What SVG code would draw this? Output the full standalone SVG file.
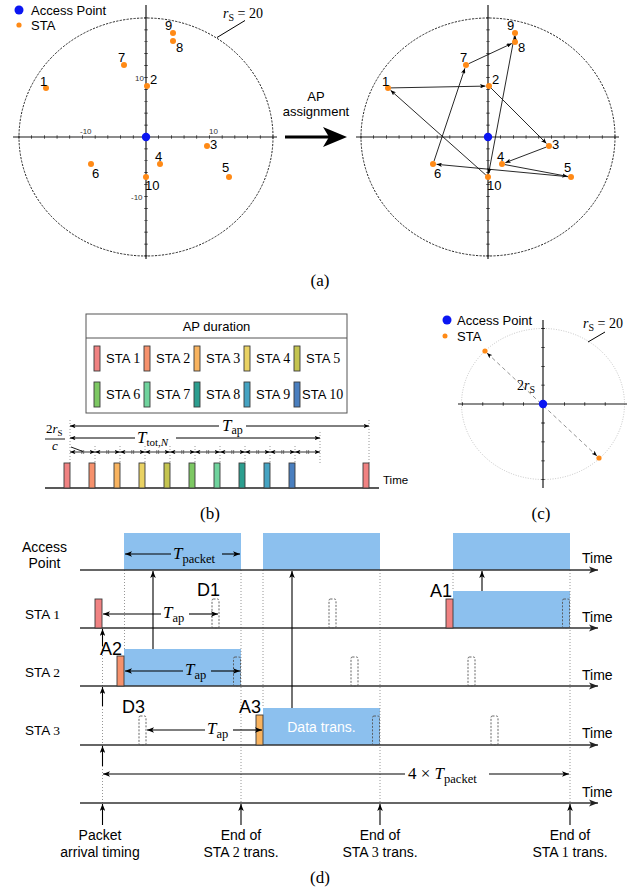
<svg xmlns="http://www.w3.org/2000/svg" width="642" height="887" viewBox="0 0 642 887">
<defs>
<style>
text{font-family:"Liberation Sans",Arial,sans-serif;fill:#000}
.sf{font-family:"Liberation Serif","Times New Roman",serif}
.it{font-style:italic}
.axis{stroke:#1a1a1a;stroke-width:1.2;fill:none}
.ring{fill:none;stroke:#111;stroke-width:0.9;stroke-dasharray:2.2 1.3}
.sta{fill:#ff8a16}
.ap{fill:#0b16f2}
.num{font-size:13px}
.tl{font-size:8px;fill:#333}
.lk{stroke:#111;stroke-width:0.9;fill:none;marker-end:url(#tip)}
.dim{stroke:#000;stroke-width:1;fill:none}
.dotv{stroke:#8a8a8a;stroke-width:0.9;stroke-dasharray:1 2;fill:none}
.slot{fill:none;stroke:#555;stroke-width:0.9;stroke-dasharray:2 1.5}
.pkt{fill:#8cc0ee}
.bar{stroke:#3a3a3a;stroke-width:0.9}
.tline{stroke:#333;stroke-width:1.4;fill:none;marker-end:url(#axtip)}
.up{stroke:#000;stroke-width:1.1;fill:none;marker-end:url(#dtip)}
.dd{stroke:#000;stroke-width:1.1;fill:none}
.c1{fill:#f08282}.c2{fill:#f6916c}.c3{fill:#f8b35f}.c4{fill:#e9d263}.c5{fill:#c4c44f}
.c6{fill:#7dc863}.c7{fill:#6fd39d}.c8{fill:#2c9e8f}.c9{fill:#45a3c2}.c10{fill:#4a7fbf}
.lg{font-size:13px}
</style>
<marker id="tip" viewBox="0 0 10 8" refX="10" refY="4" markerWidth="5.5" markerHeight="4.4" markerUnits="userSpaceOnUse" orient="auto-start-reverse"><path d="M0,0 L10,4 L0,8 L2.5,4 Z" fill="#000"/></marker>
<marker id="dtip" viewBox="0 0 10 8" refX="10" refY="4" markerWidth="7" markerHeight="5.6" markerUnits="userSpaceOnUse" orient="auto-start-reverse"><path d="M0,0 L10,4 L0,8 L2.5,4 Z" fill="#000"/></marker>
<marker id="axtip" viewBox="0 0 10 8" refX="10" refY="4" markerWidth="9" markerHeight="7.2" markerUnits="userSpaceOnUse" orient="auto"><path d="M0,0 L10,4 L0,8 L2.5,4 Z" fill="#222"/></marker>
</defs>
<rect width="642" height="887" fill="#fff"/>

<!-- ===== (a) left: station layout ===== -->
<g id="layout-left">
  <ellipse class="ring" cx="146" cy="137" rx="127" ry="119"/>
  <line class="axis" x1="13" y1="137" x2="277" y2="137"/>
  <line class="axis" x1="146" y1="5" x2="146" y2="259"/>
  <line x1="18.6" y1="137" x2="274" y2="137" stroke="#1a1a1a" stroke-width="3.5" stroke-dasharray="0.7 12"/>
  <line x1="146" y1="17.6" x2="146" y2="257" stroke="#1a1a1a" stroke-width="3.5" stroke-dasharray="0.7 11.2"/>
  <text class="tl" x="80" y="134">-10</text>
  <text class="tl" x="209" y="134">10</text>
  <text class="tl" x="135" y="81">10</text>
  <text class="tl" x="131" y="200">-10</text>
  <line x1="245" y1="20.5" x2="217" y2="37.5" stroke="#000" stroke-width="1"/>
  <text class="sf" x="223" y="18" font-size="14"><tspan class="it">r</tspan><tspan font-size="10" dy="3">S</tspan><tspan dy="-3"> = 20</tspan></text>
  <circle class="ap" cx="146" cy="137" r="4.2"/>
</g>
<g id="legend-a">
  <circle class="ap" cx="19" cy="10" r="4.5"/>
  <text class="lg" x="31" y="15">Access Point</text>
  <circle class="sta" cx="19" cy="25" r="2.6"/>
  <text class="lg" x="31" y="30">STA</text>
</g>
<g id="sta-left">
  <g id="sta1-l"><circle class="sta" cx="46" cy="88" r="3"/><text class="num" x="40" y="86">1</text></g>
  <g id="sta2-l"><circle class="sta" cx="147" cy="86" r="3"/><text class="num" x="150" y="84">2</text></g>
  <g id="sta3-l"><circle class="sta" cx="207" cy="146" r="3"/><text class="num" x="210" y="149">3</text></g>
  <g id="sta4-l"><circle class="sta" cx="160" cy="164" r="3"/><text class="num" x="155" y="161">4</text></g>
  <g id="sta5-l"><circle class="sta" cx="229" cy="177" r="3"/><text class="num" x="222" y="172">5</text></g>
  <g id="sta6-l"><circle class="sta" cx="91" cy="164" r="3"/><text class="num" x="92" y="178">6</text></g>
  <g id="sta7-l"><circle class="sta" cx="124" cy="65" r="3"/><text class="num" x="118" y="62">7</text></g>
  <g id="sta8-l"><circle class="sta" cx="173" cy="41" r="3"/><text class="num" x="176" y="52">8</text></g>
  <g id="sta9-l"><circle class="sta" cx="173" cy="33" r="3"/><text class="num" x="165" y="30">9</text></g>
  <g id="sta10-l"><circle class="sta" cx="146" cy="177" r="3"/><text class="num" x="145" y="190">10</text></g>
</g>

<!-- transition arrow -->
<g id="ap-assignment">
  <text class="lg" x="316" y="101" text-anchor="middle">AP</text>
  <text class="lg" x="316" y="116" text-anchor="middle">assignment</text>
  <line x1="285" y1="137" x2="330" y2="137" stroke="#000" stroke-width="3"/>
  <path d="M347,137 L323,127 L329,137 L323,147 Z" fill="#000"/>
</g>

<!-- ===== (a) right: assignment order ===== -->
<g id="layout-right">
  <ellipse class="ring" cx="488" cy="137" rx="127" ry="119"/>
  <line class="axis" x1="356" y1="137" x2="619" y2="137"/>
  <line class="axis" x1="488" y1="5" x2="488" y2="259"/>
  <line x1="360.6" y1="137" x2="616" y2="137" stroke="#1a1a1a" stroke-width="3.5" stroke-dasharray="0.7 12"/>
  <line x1="488" y1="17.6" x2="488" y2="257" stroke="#1a1a1a" stroke-width="3.5" stroke-dasharray="0.7 11.2"/>
  <circle class="ap" cx="488" cy="137" r="4.2"/>
</g>
<g id="order-links">
  <line class="lk" x1="391" y1="87.9" x2="485.5" y2="86.1"/>
  <line class="lk" x1="491.1" y1="88.1" x2="546.5" y2="143.5"/>
  <line class="lk" x1="546.2" y1="147.1" x2="505.3" y2="162.7"/>
  <line class="lk" x1="504.9" y1="164.6" x2="567.6" y2="176.4"/>
  <line class="lk" x1="568" y1="176.7" x2="436.5" y2="164.3"/>
  <line class="lk" x1="434" y1="161.2" x2="464.9" y2="68.3"/>
  <line class="lk" x1="468.7" y1="63.7" x2="511.8" y2="43.5"/>
  <line class="lk" x1="515" y1="41" x2="515" y2="35.5"/>
  <line class="lk" x1="514.4" y1="36" x2="488.6" y2="173.6"/>
  <line class="lk" x1="485.8" y1="175" x2="390.6" y2="90.3"/>
</g>
<g id="sta-right">
  <g id="sta1-r"><circle class="sta" cx="388" cy="88" r="3"/><text class="num" x="382" y="86">1</text></g>
  <g id="sta2-r"><circle class="sta" cx="489" cy="86" r="3"/><text class="num" x="492" y="84">2</text></g>
  <g id="sta3-r"><circle class="sta" cx="549" cy="146" r="3"/><text class="num" x="552" y="149">3</text></g>
  <g id="sta4-r"><circle class="sta" cx="502" cy="164" r="3"/><text class="num" x="497" y="161">4</text></g>
  <g id="sta5-r"><circle class="sta" cx="571" cy="177" r="3"/><text class="num" x="564" y="172">5</text></g>
  <g id="sta6-r"><circle class="sta" cx="433" cy="164" r="3"/><text class="num" x="434" y="178">6</text></g>
  <g id="sta7-r"><circle class="sta" cx="466" cy="65" r="3"/><text class="num" x="460" y="62">7</text></g>
  <g id="sta8-r"><circle class="sta" cx="515" cy="42" r="3"/><text class="num" x="518" y="52">8</text></g>
  <g id="sta9-r"><circle class="sta" cx="515" cy="33" r="3"/><text class="num" x="507" y="30">9</text></g>
  <g id="sta10-r"><circle class="sta" cx="488" cy="177" r="3"/><text class="num" x="487" y="190">10</text></g>
</g>
<text class="sf" x="320" y="286" font-size="17" text-anchor="middle">(a)</text>

<!-- ===== (b) AP duration ===== -->
<g id="duration-legend">
  <rect x="86" y="314" width="261" height="99" fill="#fff" stroke="#555" stroke-width="1"/>
  <line x1="86" y1="338" x2="347" y2="338" stroke="#555" stroke-width="1"/>
  <text class="lg" x="216.5" y="331" text-anchor="middle">AP duration</text>
  <g class="bar">
    <rect class="c1" x="94" y="346" width="6" height="25"/>
    <rect class="c2" x="144" y="346" width="6" height="25"/>
    <rect class="c3" x="194" y="346" width="6" height="25"/>
    <rect class="c4" x="244" y="346" width="6" height="25"/>
    <rect class="c5" x="294" y="346" width="6" height="25"/>
    <rect class="c6" x="94" y="382" width="6" height="25"/>
    <rect class="c7" x="144" y="382" width="6" height="25"/>
    <rect class="c8" x="194" y="382" width="6" height="25"/>
    <rect class="c9" x="244" y="382" width="6" height="25"/>
    <rect class="c10" x="294" y="382" width="6" height="25"/>
  </g>
  <text class="lg" x="106" y="363">STA <tspan class="sf" font-size="14">1</tspan></text>
  <text class="lg" x="156" y="363">STA <tspan class="sf" font-size="14">2</tspan></text>
  <text class="lg" x="206" y="363">STA <tspan class="sf" font-size="14">3</tspan></text>
  <text class="lg" x="256" y="363">STA <tspan class="sf" font-size="14">4</tspan></text>
  <text class="lg" x="306" y="363">STA <tspan class="sf" font-size="14">5</tspan></text>
  <text class="lg" x="106" y="399">STA <tspan class="sf" font-size="14">6</tspan></text>
  <text class="lg" x="156" y="399">STA <tspan class="sf" font-size="14">7</tspan></text>
  <text class="lg" x="206" y="399">STA <tspan class="sf" font-size="14">8</tspan></text>
  <text class="lg" x="256" y="399">STA <tspan class="sf" font-size="14">9</tspan></text>
  <text class="lg" x="302" y="399">STA <tspan class="sf" font-size="14">10</tspan></text>
</g>
<g id="duration-timeline">
  <g class="dotv">
    <line x1="70" y1="420" x2="70" y2="463"/><line x1="95" y1="446" x2="95" y2="463"/>
    <line x1="120" y1="446" x2="120" y2="463"/><line x1="145" y1="446" x2="145" y2="463"/>
    <line x1="170" y1="446" x2="170" y2="463"/><line x1="195" y1="446" x2="195" y2="463"/>
    <line x1="220" y1="446" x2="220" y2="463"/><line x1="245" y1="446" x2="245" y2="463"/>
    <line x1="270" y1="446" x2="270" y2="463"/><line x1="295" y1="446" x2="295" y2="463"/>
    <line x1="320" y1="432" x2="320" y2="463"/><line x1="369" y1="420" x2="369" y2="463"/>
  </g>
  <line x1="45" y1="488" x2="379" y2="488" stroke="#222" stroke-width="1.3"/>
  <text x="383" y="484" font-size="11.5">Time</text>
  <g class="bar">
    <rect class="c1" x="64" y="463" width="6" height="25"/>
    <rect class="c2" x="89" y="463" width="6" height="25"/>
    <rect class="c3" x="114" y="463" width="6" height="25"/>
    <rect class="c4" x="139" y="463" width="6" height="25"/>
    <rect class="c5" x="164" y="463" width="6" height="25"/>
    <rect class="c6" x="189" y="463" width="6" height="25"/>
    <rect class="c7" x="214" y="463" width="6" height="25"/>
    <rect class="c8" x="239" y="463" width="6" height="25"/>
    <rect class="c9" x="264" y="463" width="6" height="25"/>
    <rect class="c10" x="289" y="463" width="6" height="25"/>
    <rect class="c1" x="363" y="463" width="6" height="25"/>
  </g>
  <!-- T_ap span -->
  <line class="dim" x1="70" y1="426" x2="219" y2="426" marker-start="url(#tip)"/>
  <line class="dim" x1="246" y1="426" x2="369" y2="426" marker-end="url(#tip)"/>
  <text class="sf" x="222" y="431" font-size="17"><tspan class="it">T</tspan><tspan font-size="12" dy="3">ap</tspan></text>
  <!-- T_tot,N span -->
  <line class="dim" x1="70" y1="438" x2="135" y2="438" marker-start="url(#tip)"/>
  <line class="dim" x1="176" y1="438" x2="320" y2="438" marker-end="url(#tip)"/>
  <text class="sf" x="137" y="443" font-size="17"><tspan class="it">T</tspan><tspan font-size="11" dy="3">tot,</tspan><tspan font-size="11" class="it">N</tspan></text>
  <!-- per-slot spans -->
  <g stroke="#444" stroke-width="1.1" fill="none" marker-start="url(#tip)" marker-end="url(#tip)">
    <line x1="70" y1="452" x2="95" y2="452"/><line x1="95" y1="452" x2="120" y2="452"/>
    <line x1="120" y1="452" x2="145" y2="452"/><line x1="145" y1="452" x2="170" y2="452"/>
    <line x1="170" y1="452" x2="195" y2="452"/><line x1="195" y1="452" x2="220" y2="452"/>
    <line x1="220" y1="452" x2="245" y2="452"/><line x1="245" y1="452" x2="270" y2="452"/>
    <line x1="270" y1="452" x2="295" y2="452"/><line x1="295" y1="452" x2="320" y2="452"/>
  </g>
  <line x1="81.5" y1="452" x2="320" y2="452" stroke="#444" stroke-width="4" stroke-dasharray="0.7 1.2 0.7 22.4"/>
  <!-- 2r_S / c -->
  <text class="sf" x="46" y="433" font-size="13">2<tspan class="it">r</tspan><tspan font-size="9" dy="2.5">S</tspan></text>
  <line x1="45" y1="439" x2="65" y2="439" stroke="#000" stroke-width="0.9"/>
  <text class="sf it" x="52" y="450" font-size="13">c</text>
  <line x1="71" y1="447" x2="83" y2="451.5" stroke="#000" stroke-width="0.9"/>
</g>
<text class="sf" x="210" y="519" font-size="17" text-anchor="middle">(b)</text>

<!-- ===== (c) worst-case distance ===== -->
<g id="distance">
  <ellipse cx="543" cy="404" rx="81.5" ry="75.5" fill="none" stroke="#bdbdbd" stroke-width="0.9" stroke-dasharray="1 1.5"/>
  <line class="axis" x1="458" y1="404" x2="627" y2="404" stroke-width="1.3"/>
  <line class="axis" x1="543" y1="320" x2="543" y2="488" stroke-width="1.3"/>
  <line x1="462" y1="404" x2="625" y2="404" stroke="#1a1a1a" stroke-width="3.5" stroke-dasharray="0.8 19.6"/>
  <line x1="543" y1="328.1" x2="543" y2="481" stroke="#1a1a1a" stroke-width="3.5" stroke-dasharray="0.8 18.1"/>
  <line x1="487" y1="353" x2="597" y2="456" stroke="#888" stroke-width="0.9" stroke-dasharray="4 3"/>
  <line x1="487" y1="353" x2="491" y2="356.8" stroke="none" marker-start="url(#tip)"/>
  <line x1="593" y1="452.3" x2="597" y2="456" stroke="none" marker-end="url(#tip)"/>
  <circle class="ap" cx="543" cy="404" r="4.2"/>
  <circle class="sta" cx="485" cy="351" r="2.6"/>
  <circle class="sta" cx="599" cy="458" r="2.6"/>
  <text class="sf" x="517" y="390" font-size="14">2<tspan class="it">r</tspan><tspan font-size="10" dy="3">S</tspan></text>
  <line x1="605" y1="332" x2="588" y2="342" stroke="#000" stroke-width="1"/>
  <text class="sf" x="583" y="328" font-size="14"><tspan class="it">r</tspan><tspan font-size="10" dy="3">S</tspan><tspan dy="-3"> = 20</tspan></text>
</g>
<g id="legend-c">
  <circle class="ap" cx="447" cy="320" r="4.5"/>
  <text class="lg" x="457" y="325">Access Point</text>
  <circle class="sta" cx="445" cy="336" r="2.5"/>
  <text class="lg" x="457" y="341">STA</text>
</g>
<text class="sf" x="541" y="519" font-size="17" text-anchor="middle">(c)</text>

<!-- ===== (d) transmission timing ===== -->
<g id="packets">
  <rect class="pkt" x="124" y="533" width="117" height="37"/>
  <rect class="pkt" x="263" y="533" width="117" height="37"/>
  <rect class="pkt" x="453" y="533" width="117" height="37"/>
  <rect class="pkt" x="453" y="591" width="117" height="37"/>
  <rect class="pkt" x="124" y="649" width="117" height="37"/>
  <rect class="pkt" x="263" y="708" width="117" height="37"/>
</g>
<g id="guides" class="dotv">
  <line x1="102.5" y1="628" x2="102.5" y2="803"/>
  <line x1="124.5" y1="570" x2="124.5" y2="649"/>
  <line x1="241" y1="570" x2="241" y2="803"/>
  <line x1="263" y1="570" x2="263" y2="708"/>
  <line x1="380" y1="570" x2="380" y2="803"/>
  <line x1="453" y1="570" x2="453" y2="591"/>
  <line x1="570" y1="570" x2="570" y2="803"/>
</g>
<g id="timelines">
  <line class="tline" x1="80" y1="570" x2="598" y2="570"/>
  <line class="tline" x1="80" y1="628" x2="598" y2="628"/>
  <line class="tline" x1="80" y1="686" x2="598" y2="686"/>
  <line class="tline" x1="80" y1="745" x2="598" y2="745"/>
  <line class="tline" x1="80" y1="803" x2="598" y2="803"/>
  <text x="582" y="563" font-size="14">Time</text>
  <text x="582" y="622" font-size="14">Time</text>
  <text x="582" y="680" font-size="14">Time</text>
  <text x="582" y="738" font-size="14">Time</text>
  <text x="582" y="797" font-size="14">Time</text>
</g>
<g id="row-labels">
  <text x="44.5" y="552" font-size="14" text-anchor="middle">Access</text>
  <text x="44.5" y="568" font-size="14" text-anchor="middle">Point</text>
  <text x="25" y="619" font-size="13.5">STA <tspan class="sf">1</tspan></text>
  <text x="25" y="677" font-size="13.5">STA <tspan class="sf">2</tspan></text>
  <text x="25" y="735" font-size="13.5">STA <tspan class="sf">3</tspan></text>
</g>
<g id="slots" class="slot">
  <rect x="212" y="599" width="7" height="29" rx="1.5"/>
  <rect x="329" y="599" width="7" height="29" rx="1.5"/>
  <rect x="562.5" y="599" width="7" height="29" rx="1.5"/>
  <rect x="233.5" y="657" width="7" height="29" rx="1.5"/>
  <rect x="351" y="657" width="7" height="29" rx="1.5"/>
  <rect x="468" y="657" width="7" height="29" rx="1.5"/>
  <rect x="139" y="716" width="7" height="29" rx="1.5"/>
  <rect x="372.5" y="716" width="7" height="29" rx="1.5"/>
  <rect x="491" y="716" width="7" height="29" rx="1.5"/>
</g>
<g id="access-bars" class="bar">
  <rect class="c1" x="95" y="599" width="7" height="29"/>
  <rect class="c1" x="446" y="599" width="7" height="29"/>
  <rect class="c2" x="117" y="656" width="7" height="30"/>
  <rect class="c3" x="256" y="715" width="7" height="30"/>
</g>
<g id="event-labels" font-size="18">
  <text x="197" y="596">D1</text>
  <text x="430" y="597">A1</text>
  <text x="100" y="655">A2</text>
  <text x="122" y="713">D3</text>
  <text x="239" y="713">A3</text>
</g>
<text x="321.5" y="732" font-size="14" text-anchor="middle" style="fill:#fff">Data trans.</text>
<g id="timing-arrows">
  <!-- uplink deliveries to the access point -->
  <line class="up" x1="482" y1="591" x2="482" y2="571"/>
  <line class="up" x1="153" y1="649" x2="153" y2="571"/>
  <line class="up" x1="292" y1="708" x2="292" y2="571"/>
  <!-- packet arrival marks -->
  <line class="up" x1="102.5" y1="646" x2="102.5" y2="629"/>
  <line class="up" x1="102.5" y1="706" x2="102.5" y2="687"/>
  <line class="up" x1="102.5" y1="766" x2="102.5" y2="746"/>
  <line class="up" x1="102.5" y1="825" x2="102.5" y2="804"/>
  <line class="up" x1="241" y1="825" x2="241" y2="804"/>
  <line class="up" x1="380" y1="825" x2="380" y2="804"/>
  <line class="up" x1="570" y1="825" x2="570" y2="804"/>
  <!-- spans -->
  <line class="dd" x1="125" y1="554" x2="171" y2="554" marker-start="url(#dtip)"/>
  <line class="dd" x1="222" y1="554" x2="240" y2="554" marker-end="url(#dtip)"/>
  <line class="dd" x1="103" y1="614" x2="161" y2="614" marker-start="url(#dtip)"/>
  <line class="dd" x1="189" y1="614" x2="218" y2="614" marker-end="url(#dtip)"/>
  <line class="dd" x1="125" y1="671" x2="183" y2="671" marker-start="url(#dtip)"/>
  <line class="dd" x1="211" y1="671" x2="240" y2="671" marker-end="url(#dtip)"/>
  <line class="dd" x1="147" y1="730" x2="205" y2="730" marker-start="url(#dtip)"/>
  <line class="dd" x1="233" y1="730" x2="262" y2="730" marker-end="url(#dtip)"/>
  <line class="dd" x1="103" y1="774" x2="405" y2="774" marker-start="url(#dtip)"/>
  <line class="dd" x1="489" y1="774" x2="569" y2="774" marker-end="url(#dtip)"/>
</g>
<g id="span-labels" class="sf" font-size="17">
  <text class="sf" x="173" y="559"><tspan class="it">T</tspan><tspan font-size="12.5" dy="3.5">packet</tspan></text>
  <text class="sf" x="163" y="618"><tspan class="it">T</tspan><tspan font-size="12.5" dy="3.5">ap</tspan></text>
  <text class="sf" x="185" y="675"><tspan class="it">T</tspan><tspan font-size="12.5" dy="3.5">ap</tspan></text>
  <text class="sf" x="207" y="734"><tspan class="it">T</tspan><tspan font-size="12.5" dy="3.5">ap</tspan></text>
  <text class="sf" x="408" y="779">4 × <tspan class="it">T</tspan><tspan font-size="12.5" dy="3.5">packet</tspan></text>
</g>
<g id="event-captions" font-size="14" text-anchor="middle">
  <text x="100" y="840">Packet</text>
  <text x="100" y="857">arrival timing</text>
  <text x="241" y="840">End of</text>
  <text x="241" y="857">STA <tspan class="sf">2</tspan> trans.</text>
  <text x="380" y="840">End of</text>
  <text x="380" y="857">STA <tspan class="sf">3</tspan> trans.</text>
  <text x="570" y="840">End of</text>
  <text x="570" y="857">STA <tspan class="sf">1</tspan> trans.</text>
</g>
<text class="sf" x="320" y="883" font-size="17" text-anchor="middle">(d)</text>
</svg>
